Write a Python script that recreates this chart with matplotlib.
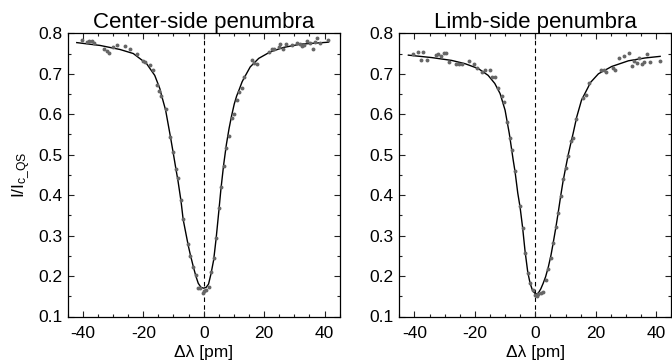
import matplotlib
matplotlib.use("Agg")
import matplotlib.pyplot as plt
from matplotlib.ticker import MultipleLocator

plt.rcParams['font.family'] = ['Liberation Sans', 'DejaVu Sans']
plt.rcParams['mathtext.fontset'] = 'custom'
plt.rcParams['mathtext.rm'] = 'Liberation Sans'
plt.rcParams['mathtext.it'] = 'Liberation Sans'

# ---------------- data ----------------
titles = ["Center-side penumbra", "Limb-side penumbra"]

center_obs_x = [-40.4, -38.7, -37.8, -37.1, -36.3, -33.0, -32.1, -31.4, -29.9, -28.8,
                -26.1, -24.4, -22.0, -20.2, -19.3, -17.8, -16.9, -15.4, -14.7, -14.0,
                -12.6, -11.0, -10.1, -9.2, -8.5, -7.5, -6.8, -5.1, -4.4, -3.5,
                -2.6, -1.8, -1.1, -0.2, 0.2, 0.9, 1.6, 2.4, 3.3, 4.1,
                5.0, 5.7, 6.6, 7.5, 8.4, 9.2, 10.1, 10.9, 11.8, 12.7,
                13.4, 16.0, 16.7, 17.6, 21.7, 22.6, 23.3, 24.8, 25.3, 26.4,
                27.3, 29.2, 30.8, 31.7, 32.5, 33.2, 34.1, 35.2, 36.0, 36.9,
                37.6, 38.5, 41.1]
center_obs_y = [0.783, 0.778, 0.780, 0.780, 0.777, 0.762, 0.756, 0.752, 0.765, 0.771,
                0.768, 0.762, 0.748, 0.731, 0.728, 0.722, 0.709, 0.672, 0.657, 0.645,
                0.614, 0.543, 0.507, 0.464, 0.442, 0.389, 0.340, 0.279, 0.250, 0.223,
                0.202, 0.171, 0.170, 0.157, 0.164, 0.165, 0.174, 0.211, 0.244, 0.295,
                0.367, 0.420, 0.472, 0.517, 0.546, 0.591, 0.600, 0.635, 0.654, 0.666,
                0.692, 0.733, 0.726, 0.725, 0.754, 0.762, 0.760, 0.766, 0.773, 0.760,
                0.773, 0.772, 0.775, 0.773, 0.768, 0.772, 0.781, 0.775, 0.762, 0.779,
                0.789, 0.776, 0.784]

center_fit_x = [-42.0, -34.3, -27.7, -23.3, -18.9, -16.2, -14.5, -14.0, -12.6, -11.0,
                -10.1, -9.2, -8.5, -7.5, -6.8, -5.1, -4.4, -3.5, -2.6, -1.8,
                -0.9, 0.0, 0.8, 1.6, 2.4, 3.3, 4.1, 5.0, 5.7, 6.6,
                7.5, 8.4, 9.2, 10.1, 10.9, 11.8, 12.7, 13.4, 15.4, 18.2,
                22.0, 26.4, 31.9, 37.4, 41.3]
center_fit_y = [0.777, 0.770, 0.760, 0.750, 0.725, 0.696, 0.663, 0.648, 0.610, 0.544,
                0.505, 0.465, 0.435, 0.385, 0.340, 0.275, 0.252, 0.225, 0.200, 0.182,
                0.172, 0.170, 0.172, 0.180, 0.205, 0.240, 0.292, 0.360, 0.415, 0.475,
                0.525, 0.565, 0.595, 0.625, 0.645, 0.662, 0.680, 0.690, 0.717, 0.738,
                0.754, 0.765, 0.773, 0.776, 0.778]

limb_obs_x = [-40.4, -38.7, -37.8, -37.1, -36.0, -33.0, -32.1, -31.2, -30.1, -29.4,
              -28.5, -26.1, -25.2, -24.4, -22.0, -20.2, -19.3, -17.8, -16.7, -15.0,
              -14.2, -13.4, -12.5, -11.1, -10.2, -9.2, -8.35, -7.6, -6.7, -5.05,
              -4.2, -3.4, -2.5, -1.75, -0.86, -0.1, 0.46, 1.0, 1.8, 2.6,
              3.4, 4.3, 5.2, 5.9, 6.8, 7.6, 8.4, 9.2, 10.0, 10.9,
              11.8, 12.5, 13.4, 15.8, 16.7, 17.8, 21.8, 22.6, 23.3, 25.6,
              26.4, 27.7, 29.4, 31.0, 31.9, 32.7, 33.6, 34.3, 35.2, 36.1,
              36.9, 38.0, 41.3]
limb_obs_y = [0.748, 0.754, 0.735, 0.754, 0.733, 0.746, 0.750, 0.743, 0.751, 0.751,
              0.728, 0.725, 0.723, 0.723, 0.731, 0.725, 0.714, 0.704, 0.710, 0.710,
              0.691, 0.691, 0.666, 0.645, 0.630, 0.581, 0.541, 0.511, 0.460, 0.374,
              0.319, 0.256, 0.207, 0.184, 0.165, 0.153, 0.151, 0.155, 0.159, 0.161,
              0.190, 0.217, 0.244, 0.281, 0.322, 0.356, 0.398, 0.439, 0.468, 0.496,
              0.534, 0.542, 0.587, 0.641, 0.647, 0.676, 0.709, 0.710, 0.704, 0.713,
              0.710, 0.738, 0.743, 0.751, 0.719, 0.732, 0.727, 0.739, 0.723, 0.729,
              0.748, 0.729, 0.731]

limb_fit_x = [-42.0, -34.3, -27.7, -23.3, -18.9, -15.6, -13.4, -11.65, -10.0, -8.6,
              -7.3, -6.7, -5.8, -5.05, -4.2, -3.4, -2.5, -1.75, -0.86, 0.2,
              1.0, 1.8, 2.6, 3.4, 4.3, 5.2, 5.9, 6.8, 7.6, 8.4,
              9.2, 10.0, 10.9, 11.8, 12.5, 13.7, 15.3, 17.5, 18.2, 20.9,
              25.3, 30.8, 36.3, 41.3]
limb_fit_y = [0.746, 0.740, 0.733, 0.725, 0.713, 0.696, 0.676, 0.651, 0.610, 0.552,
              0.486, 0.458, 0.405, 0.371, 0.320, 0.262, 0.210, 0.183, 0.163, 0.155,
              0.158, 0.168, 0.182, 0.198, 0.222, 0.252, 0.281, 0.320, 0.358, 0.398,
              0.435, 0.466, 0.500, 0.530, 0.552, 0.593, 0.635, 0.667, 0.678, 0.700,
              0.718, 0.732, 0.739, 0.743]

yticks = [0.1, 0.2, 0.3, 0.4, 0.5, 0.6, 0.7, 0.8]
xticks = [-40, -20, 0, 20, 40]

# ---------------- figure ----------------
fig = plt.figure(figsize=(6.72, 3.62), dpi=100)
ax1 = fig.add_axes([67.7/672, 1-316.5/362, (339.7-67.7)/672, (316.5-33.3)/362])
ax2 = fig.add_axes([399.3/672, 1-316.5/362, (671.3-399.3)/672, (316.5-33.3)/362])

panels = [(ax1, center_obs_x, center_obs_y, center_fit_x, center_fit_y),
          (ax2, limb_obs_x, limb_obs_y, limb_fit_x, limb_fit_y)]

for (ax, ox, oy, fx, fy), title in zip(panels, titles):
    ax.plot(fx, fy, color='black', lw=1.0, zorder=2)
    ax.plot(ox, oy, 'o', color='#666666', ms=2.8, mec='none', zorder=3)
    ax.axvline(0, color='black', lw=0.8, dashes=(4, 3), zorder=1)
    ax.set_xlim(-45, 45)
    ax.set_ylim(0.1, 0.8)
    ax.set_xticks(xticks)
    ax.set_yticks(yticks)
    ax.set_xticklabels([str(v) for v in xticks])
    ax.set_yticklabels([f"{v:.1f}" for v in yticks])
    ax.xaxis.set_minor_locator(MultipleLocator(5))
    ax.yaxis.set_minor_locator(MultipleLocator(0.05))
    ax.tick_params(which='both', direction='in', top=True, right=True,
                   labelsize=12.5, width=0.8, color='#222222')
    ax.tick_params(which='major', length=4.5)
    ax.tick_params(which='minor', length=2.2)
    ax.tick_params(axis='x', pad=7)
    ax.tick_params(axis='y', pad=4)
    for s in ax.spines.values():
        s.set_linewidth(0.9)
    ax.set_title(title, fontsize=16, pad=4)
    ax.set_xlabel('Δλ [pm]', fontsize=12.5, labelpad=3)

ax1.set_ylabel(r'I/I$_{\mathrm{c\_QS}}$', fontsize=12.5, labelpad=4)

fig.savefig('out.png', dpi=100)
